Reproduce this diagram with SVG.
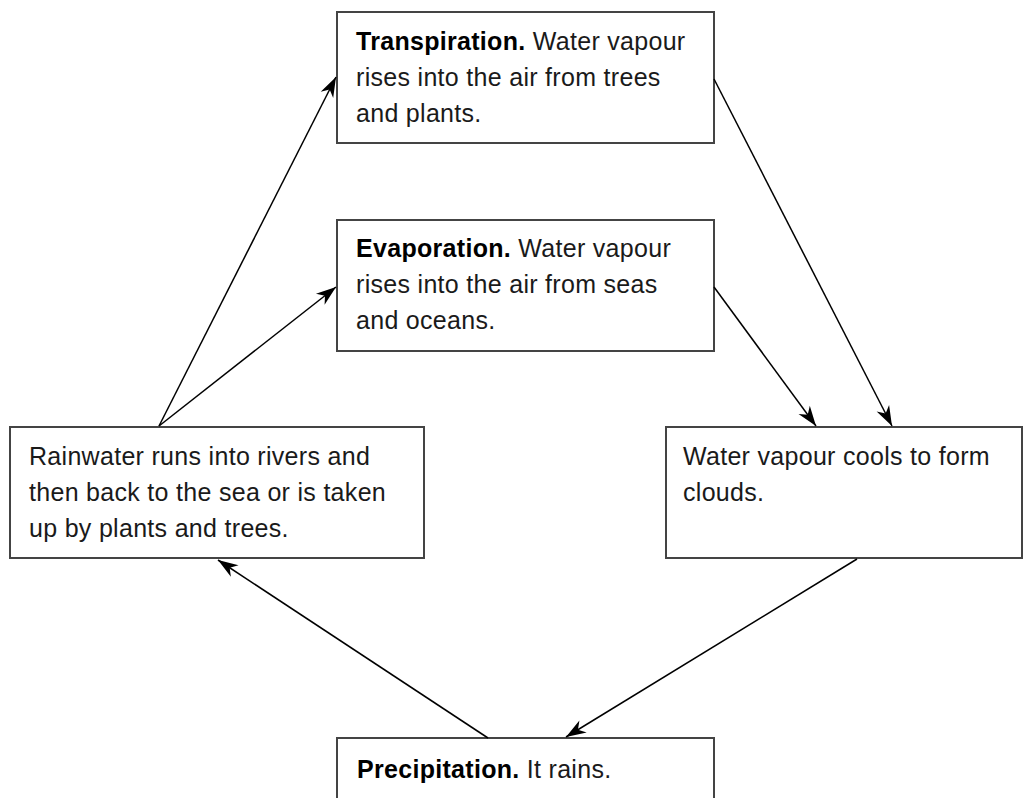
<svg xmlns="http://www.w3.org/2000/svg" width="1032" height="798" viewBox="0 0 1032 798">
<style>
.box{fill:#fff;stroke:#444;stroke-width:2}
.t{font-family:"Liberation Sans",Arial,sans-serif;font-size:25px;fill:#1a1a1a;letter-spacing:0.3px}
.b{font-weight:bold;fill:#000}
.c{stroke:#000;stroke-width:1.5;fill:none;marker-end:url(#ah)}
</style>
<defs>
<marker id="ah" markerUnits="userSpaceOnUse" markerWidth="24" markerHeight="16" viewBox="-22 -8 24 16" refX="0" refY="0" orient="auto">
<path d="M0,0 L-20,-7 L-14,0 L-20,7 Z" fill="#000"/>
</marker>
</defs>
<g id="transpiration">
<rect class="box" x="337" y="12" width="377" height="131"/>
<text class="t" x="356" y="50"><tspan class="b">Transpiration.</tspan> Water vapour</text>
<text class="t" x="356" y="86">rises into the air from trees</text>
<text class="t" x="356" y="122">and plants.</text>
</g>
<g id="evaporation">
<rect class="box" x="337" y="220" width="377" height="131"/>
<text class="t" x="356" y="257"><tspan class="b">Evaporation.</tspan> Water vapour</text>
<text class="t" x="356" y="293">rises into the air from seas</text>
<text class="t" x="356" y="329">and oceans.</text>
</g>
<g id="rainwater">
<rect class="box" x="10" y="427" width="414" height="131"/>
<text class="t" x="29" y="465">Rainwater runs into rivers and</text>
<text class="t" x="29" y="501">then back to the sea or is taken</text>
<text class="t" x="29" y="537">up by plants and trees.</text>
</g>
<g id="clouds">
<rect class="box" x="666" y="427" width="356" height="131"/>
<text class="t" x="683" y="465">Water vapour cools to form</text>
<text class="t" x="683" y="501">clouds.</text>
</g>
<g id="precipitation">
<rect class="box" x="337" y="738" width="377" height="80"/>
<text class="t" x="357" y="778"><tspan class="b">Precipitation.</tspan> It rains.</text>
</g>
<g id="connectors">
<line class="c" x1="159" y1="426" x2="336" y2="77"/>
<line class="c" x1="159" y1="426" x2="336" y2="287"/>
<line class="c" x1="714" y1="79" x2="892" y2="426"/>
<line class="c" x1="714" y1="287" x2="816" y2="426"/>
<line class="c" x1="857" y1="559" x2="566" y2="737"/>
<line class="c" x1="488" y1="738" x2="218" y2="560"/>
</g>
</svg>
